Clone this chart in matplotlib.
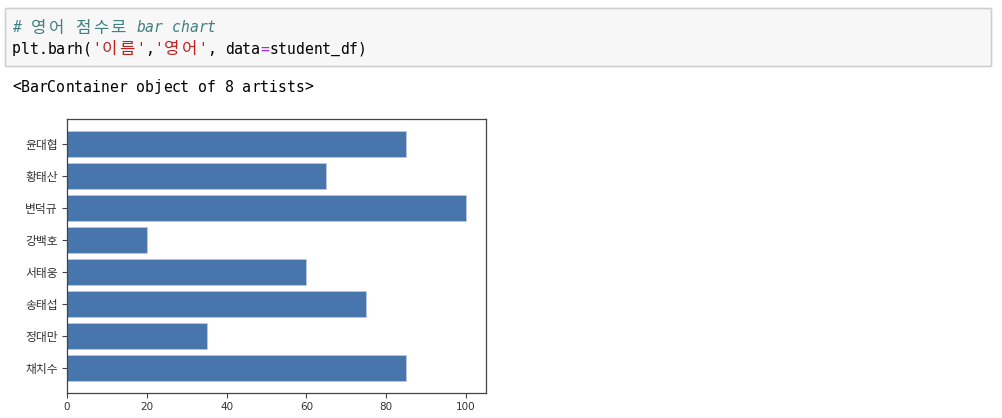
import matplotlib.pyplot as plt
from matplotlib.patches import FancyBboxPatch

# data (barh draws the first name at the bottom)
names = ['채치수', '정대만', '송태섭', '서태웅', '강백호', '변덕규', '황태산', '윤대협']
english = [85, 35, 75, 60, 20, 100, 65, 85]
xticks = [0, 20, 40, 60, 80, 100]

# notebook cell text, split in coloured runs
comment_line = [('# 영어 점수로 bar chart', '#408080')]
code_line = [("plt.barh(", '#000000'), ("'이름'", '#ba2121'), (",", '#000000'),
             ("'영어'", '#ba2121'), (", data", '#000000'), ("=", '#aa22ff'),
             ("student_df)", '#000000')]
output_line = [('<BarContainer object of 8 artists>', '#000000')]

W, H = 1002, 418
fig = plt.figure(figsize=(W / 100, H / 100), dpi=100)

mono = ['DejaVu Sans Mono', 'Noto Sans CJK KR']
fs = 10.6
cw = 0.602 * fs * 100 / 72  # width of one monospace column in px


def px(x, y):
    return x / W, 1 - y / H


def draw_line(runs, x0, y, italic=False):
    col = 0
    for text, color in runs:
        for ch in text:
            wide = ord(ch) > 0x2E80
            fig.text(*px(x0 + col * cw + (cw if wide else 0), y), ch,
                     family=mono, fontsize=12 if wide else fs, color=color,
                     style='italic' if italic else 'normal',
                     ha='center' if wide else 'left', va='center')
            col += 2 if wide else 1


# code cell box
box = FancyBboxPatch(px(5.5, 66.5), (991.5 - 5.5) / W, (66.5 - 8.5) / H,
                     boxstyle='round,pad=0,rounding_size=0.002',
                     transform=fig.transFigure, facecolor='#f7f7f7',
                     edgecolor='#cfcfcf', linewidth=1.2)
fig.add_artist(box)

draw_line(comment_line, 12, 28, italic=True)
draw_line(code_line, 12, 49)
draw_line(output_line, 12, 87)

# the bar chart itself
ax = fig.add_axes([67 / W, 1 - 393 / H, (486 - 67) / W, (393 - 119) / H])
ax.barh(names, english, color='#4975ad', edgecolor='#bccde6', linewidth=0.5)
ax.set_xticks(xticks)
ax.set_yticks(range(len(names)))
ax.set_yticklabels(names, family=['Noto Sans CJK KR'], fontsize=8.5, color='#333333')
for lab in ax.get_xticklabels():
    lab.set_fontsize(7.5)
    lab.set_color('#333333')
for s in ax.spines.values():
    s.set_color('#444444')
    s.set_linewidth(0.9)
ax.tick_params(length=3.5, width=0.8, color='#444444', pad=3)

fig.savefig('out.png', dpi=100)
